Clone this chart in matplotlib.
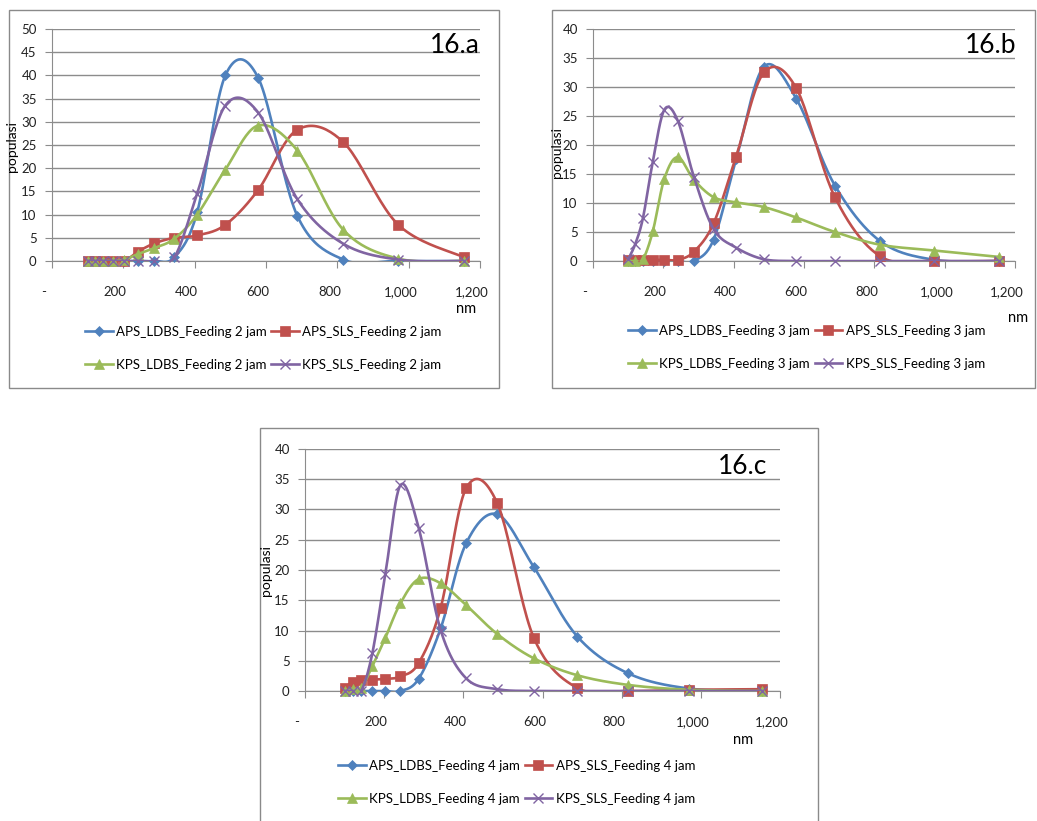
import numpy as np
import matplotlib
matplotlib.use("Agg")
import matplotlib.pyplot as plt
from matplotlib.lines import Line2D
from matplotlib.patches import Rectangle
from matplotlib.transforms import ScaledTranslation

W, H = 1037, 821

# particle size bins (nm)
ukuran = [100, 120, 142, 170, 203, 241, 287, 343, 407, 486, 578, 688, 817, 971, 1155]

# 16.a - feeding 2 jam
a_aps_ldbs = [0, 0, 0, 0, 0, 0, 0, 0.8, 10.5, 40, 39.5, 9.7, 0.3, 0, 0]
a_aps_sls = [0, 0, 0, 0, 0, 2.0, 3.8, 5.0, 5.5, 7.8, 15.3, 28.3, 25.6, 7.8, 0.8]
a_kps_ldbs = [0, 0, 0, 0, 0.3, 1.5, 2.8, 4.8, 10.0, 19.7, 29.2, 23.8, 6.7, 0.5, 0]
a_kps_sls = [0, 0, 0, 0, 0, 0, 0, 0.8, 14.5, 33.5, 32.0, 13.3, 3.7, 0.3, 0]

# 16.b - feeding 3 jam
b_aps_ldbs = [0, 0, 0, 0, 0, 0, 0, 3.7, 17.5, 33.5, 28.0, 13.0, 3.4, 0.2, 0]
b_aps_sls = [0.2, 0.2, 0.2, 0.2, 0.2, 0.2, 1.6, 6.5, 18.0, 32.5, 29.8, 11.0, 0.8, 0, 0]
b_kps_ldbs = [0, 0, 0.3, 5.1, 14.2, 17.9, 14.0, 11.0, 10.1, 9.3, 7.5, 5.0, 2.8, 1.8, 0.7]
b_kps_sls = [0.3, 2.9, 7.4, 17.1, 26.1, 24.2, 14.5, 5.5, 2.3, 0.3, 0, 0, 0, 0, 0]

# 16.c - feeding 4 jam
c_aps_ldbs = [0, 0, 0, 0, 0, 0, 2.0, 10.4, 24.4, 29.2, 20.5, 9.0, 2.9, 0.4, 0]
c_aps_sls = [0.5, 1.5, 1.9, 1.9, 2.0, 2.4, 4.6, 13.8, 33.5, 31.0, 8.8, 0.5, 0, 0.2, 0.3]
c_kps_ldbs = [0, 0.3, 0.5, 4.1, 8.8, 14.5, 18.5, 17.8, 14.2, 9.4, 5.4, 2.6, 1.0, 0.2, 0]
c_kps_sls = [0, 0, 0, 6.2, 19.3, 34.0, 27.0, 10.0, 2.1, 0.3, 0, 0, 0, 0, 0]

xtick_vals = [0, 200, 400, 600, 800, 1000, 1200]
xtick_labels = ["-", "200", "400", "600", "800", "1,000", "1,200"]

FONT = "Lato"
plt.rcParams["font.family"] = FONT

colors = ["#4F81BD", "#C0504D", "#9BBB59", "#8064A2"]
markers = ["D", "s", "^", "x"]
msizes = [5.5, 7, 7, 7]
names = ["APS_LDBS", "APS_SLS", "KPS_LDBS", "KPS_SLS"]


def smooth(x, y, n=24):
    # excel-like smoothed line (catmull-rom bezier)
    P = np.column_stack([x, y]).astype(float)
    out = []
    for i in range(len(P) - 1):
        p0 = P[i - 1] if i > 0 else P[i]
        p1, p2 = P[i], P[i + 1]
        p3 = P[i + 2] if i + 2 < len(P) else P[i + 1]
        c1 = p1 + (p2 - p0) / 6
        c2 = p2 - (p3 - p1) / 6
        t = np.linspace(0, 1, n)[:, None]
        seg = (1 - t) ** 3 * p1 + 3 * (1 - t) ** 2 * t * c1 + 3 * (1 - t) * t ** 2 * c2 + t ** 3 * p2
        out.append(seg if i == 0 else seg[1:])
    out = np.vstack(out)
    return out[:, 0], out[:, 1]


fig = plt.figure(figsize=(W / 100, H / 100), dpi=100)


def fx(px):
    return px / W


def fy(py):
    return 1 - py / H


def border(x0, y0, x1, y1):
    fig.patches.append(Rectangle((fx(x0), fy(y1)), fx(x1) - fx(x0), fy(y0) - fy(y1),
                                 transform=fig.transFigure, fill=False,
                                 edgecolor="#8a8a8a", lw=1.0))


def panel(box, ymax, series, jam, title, title_xy, ylab_xy, nm_xy, leg_xy):
    left, top, right, bottom = box
    ax = fig.add_axes([fx(left), fy(bottom), fx(right) - fx(left), fy(top) - fy(bottom)])
    handles = []
    for k, ys in enumerate(series):
        sx, sy = smooth(ukuran, ys)
        ax.plot(sx, sy, color=colors[k], lw=1.9, zorder=3 + k, solid_capstyle="round")
        mew = 1.0 if markers[k] == "x" else 0.5
        ax.plot(ukuran, ys, ls="none", marker=markers[k], ms=msizes[k], color=colors[k],
                mec=colors[k], mew=mew, zorder=3 + k, clip_on=False)
        handles.append(Line2D([], [], color=colors[k], lw=1.9, marker=markers[k],
                              ms=msizes[k], mew=mew))
    ax.set_xlim(0, 1200)
    ax.set_ylim(0, ymax)
    ax.set_yticks(np.arange(0, ymax + 1, 5))
    ax.set_xticks(xtick_vals)
    ax.set_xticklabels(xtick_labels)
    ax.grid(axis="y", color="#8c8c8c", lw=1.0)
    ax.set_axisbelow(True)
    for s in ["top", "right"]:
        ax.spines[s].set_visible(False)
    for s in ["left", "bottom"]:
        ax.spines[s].set_color("#8c8c8c")
    ax.tick_params(axis="x", direction="out", length=5, color="#8c8c8c", pad=13,
                   labelsize=9.5, labelcolor="#222222")
    ax.tick_params(axis="y", direction="out", length=5, color="#8c8c8c", pad=6,
                   labelsize=9.5, labelcolor="#222222")
    shift = ScaledTranslation(-8 / 100, 0, fig.dpi_scale_trans)
    for lab in ax.get_xticklabels():
        lab.set_transform(lab.get_transform() + shift)

    fig.text(fx(title_xy[0]), fy(title_xy[1]), title, ha="right", va="baseline", fontsize=19)
    fig.text(fx(ylab_xy[0]), fy(ylab_xy[1]), "populasi", rotation=90, ha="center",
             va="center", fontsize=10)
    fig.text(fx(nm_xy[0]), fy(nm_xy[1]), "nm", ha="center", va="center", fontsize=10.5)

    labels = [f"{n}_Feeding {jam} jam" for n in names]
    order = [0, 2, 1, 3]
    fig.legend([handles[i] for i in order], [labels[i] for i in order],
               loc="upper left", bbox_to_anchor=(fx(leg_xy[0]), fy(leg_xy[1])),
               bbox_transform=fig.transFigure, ncol=2, frameon=False, borderpad=0,
               fontsize=9.5, handlelength=2.1, handletextpad=0.25, columnspacing=0.35,
               labelspacing=1.6, borderaxespad=0)
    return ax


# chart area borders
border(9, 10, 499, 388)
border(552, 10, 1035, 388)
border(260, 428, 818, 830)

panel((52, 29, 480, 261), 50, [a_aps_ldbs, a_aps_sls, a_kps_ldbs, a_kps_sls], 2,
      "16.a", (480, 53), (12, 147), (466, 309), (85, 326))
panel((593, 29, 1015, 261), 40, [b_aps_ldbs, b_aps_sls, b_kps_ldbs, b_kps_sls], 3,
      "16.b", (1016, 53), (557, 152), (1018, 318), (628, 325))
panel((305, 449, 780, 691), 40, [c_aps_ldbs, c_aps_sls, c_kps_ldbs, c_kps_sls], 4,
      "16.c", (767, 474), (266, 571), (743, 740), (338, 760))

fig.savefig("out.png", dpi=100)
